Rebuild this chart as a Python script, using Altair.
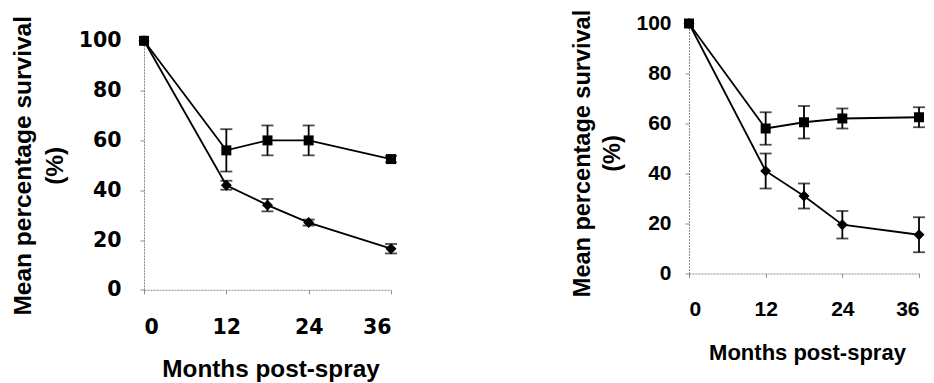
import altair as alt
import pandas as pd

months = [0, 12, 18, 24, 36]

# Left panel
left_square_mean = [100, 56, 60, 60, 52.5]
left_square_err = [0, 8.5, 6, 6, 1.3]
left_diamond_mean = [100, 42, 34, 27, 16.5]
left_diamond_err = [0, 1.8, 2.5, 1.2, 1.9]

# Right panel
right_square_mean = [100, 58, 60.5, 62, 62.5]
right_square_err = [0, 6.5, 6.5, 4, 4]
right_diamond_mean = [100, 41, 31, 19.5, 15.5]
right_diamond_err = [0, 7, 5, 5.5, 7]

x_ticks = [0, 12, 24, 36]
y_ticks = [0, 20, 40, 60, 80, 100]
x_title = "Months post-spray"
y_title = ["Mean percentage survival", "(%)"]


def build_df(sq_m, sq_e, di_m, di_e):
    rows = []
    for name, ms, es in (("square", sq_m, sq_e), ("diamond", di_m, di_e)):
        for mo, m, e in zip(months, ms, es):
            rows.append({"month": mo, "mean": m, "err": e, "lo": m - e,
                         "hi": m + e, "series": name})
    return pd.DataFrame(rows)


GREY = "#8a8a8a"


def panel(df, width, height, top_gap, lab_font, lab_size, ylab_pad, xlab_pad,
          ytitle_size, xtitle_size, line_h, ytitle_x, ytitle_shift,
          xtitle_x, xtitle_y):
    total_h = height + top_gap
    xaxis = alt.Axis(values=x_ticks, title=x_title, grid=False,
                     labelFont=lab_font, labelFontSize=lab_size,
                     labelFontWeight="bold", labelColor="black",
                     labelPadding=xlab_pad, tickSize=4, tickColor=GREY,
                     domainColor=GREY, domainDash=[2, 1],
                     titleFont="Liberation Sans", titleFontSize=xtitle_size,
                     titleFontWeight="bold", titleColor="black",
                     titleBaseline="alphabetic", titleAlign="center",
                     titleX=xtitle_x, titleY=xtitle_y)
    yaxis = alt.Axis(values=y_ticks, title=y_title, grid=False,
                     labelFont=lab_font, labelFontSize=lab_size,
                     labelFontWeight="bold", labelColor="black",
                     labelPadding=ylab_pad, tickSize=4, tickColor=GREY,
                     domainColor=GREY, domainDash=[2, 1],
                     titleFont="Liberation Sans", titleFontSize=ytitle_size,
                     titleFontWeight="bold", titleColor="black",
                     titleLineHeight=line_h, titleAngle=270,
                     titleBaseline="alphabetic", titleAlign="center",
                     titleX=ytitle_x,
                     titleY=top_gap + height / 2 + ytitle_shift)
    xenc = alt.X("month:Q", scale=alt.Scale(domain=[0, 36], nice=False),
                 axis=xaxis)
    yscale = alt.Scale(domain=[0, 100], nice=False,
                       range=[total_h, top_gap])
    base = alt.Chart(df)
    err = base.transform_filter("datum.err > 0")
    line = base.mark_line(color="black", strokeWidth=1.8).encode(
        x=xenc, y=alt.Y("mean:Q", scale=yscale, axis=yaxis),
        detail="series:N")
    rules = err.mark_rule(color="black", strokeWidth=1.8).encode(
        x=xenc, y=alt.Y("lo:Q", scale=yscale, axis=yaxis), y2="hi:Q")
    cap_lo = err.mark_tick(color="black", thickness=1.8, size=12,
                           orient="horizontal").encode(
        x=xenc, y=alt.Y("lo:Q", scale=yscale, axis=yaxis))
    cap_hi = err.mark_tick(color="black", thickness=1.8, size=12,
                           orient="horizontal").encode(
        x=xenc, y=alt.Y("hi:Q", scale=yscale, axis=yaxis))
    pts = base.mark_point(filled=True, color="black", opacity=1).encode(
        x=xenc, y=alt.Y("mean:Q", scale=yscale, axis=yaxis),
        shape=alt.Shape("series:N",
                        scale=alt.Scale(domain=["square", "diamond"],
                                        range=["square", "diamond"]),
                        legend=None),
        size=alt.Size("series:N",
                      scale=alt.Scale(domain=["square", "diamond"],
                                      range=[100, 120]),
                      legend=None))
    return alt.layer(line, rules, cap_lo, cap_hi, pts).properties(
        width=width, height=total_h)


left = panel(build_df(left_square_mean, left_square_err,
                      left_diamond_mean, left_diamond_err),
             width=247, height=249, top_gap=17.3, lab_font="DejaVu Sans",
             lab_size=20.5, ylab_pad=19, xlab_pad=24, ytitle_size=24.5,
             xtitle_size=24.3, line_h=32, ytitle_x=-113.3, ytitle_shift=0,
             xtitle_x=126.5, xtitle_y=87)

right = panel(build_df(right_square_mean, right_square_err,
                       right_diamond_mean, right_diamond_err),
              width=230, height=250, top_gap=0, lab_font="Liberation Sans",
              lab_size=21, ylab_pad=14, xlab_pad=20.5, ytitle_size=23.5,
              xtitle_size=22, line_h=30, ytitle_x=-100, ytitle_shift=4.5,
              xtitle_x=118, xtitle_y=86)

chart = alt.hconcat(left, right, spacing=172).configure(
    padding={"top": 0.5, "left": 2, "right": 0, "bottom": 0},
    background="white",
).configure_view(stroke=None)

chart.save("out.html", embed_options={"renderer": "svg", "actions": False})
